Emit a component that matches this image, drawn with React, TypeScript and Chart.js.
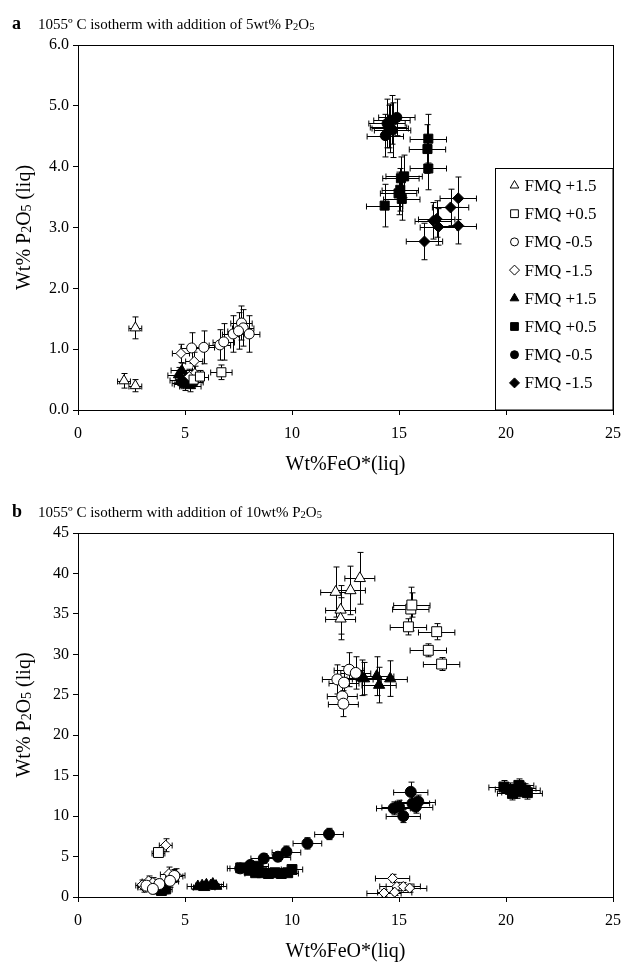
import React, { useEffect, useRef } from "react";
import { Chart, registerables } from "chart.js";
Chart.register(...registerables);

// ---------- DATA: [FeO*, P2O5, xErr, yErr] ----------
// Panel a (5 wt% P2O5)
const A_TRI_OPEN = [[2.68, 1.35, 0.3, 0.18], [2.15, 0.48, 0.3, 0.12], [2.68, 0.4, 0.3, 0.1]];
const A_SQ_OPEN = [[6.7, 0.62, 0.5, 0.12], [5.4, 0.5, 0.4, 0.1], [5.7, 0.55, 0.4, 0.1]];
const A_CIR_OPEN = [[5.31, 1.02, 0.5, 0.25], [5.88, 1.03, 0.5, 0.27], [6.63, 1.07, 0.5, 0.25], [6.81, 1.12, 0.5, 0.3], [7.25, 1.25, 0.5, 0.3], [7.64, 1.43, 0.5, 0.28], [7.72, 1.35, 0.5, 0.3], [8.0, 1.25, 0.5, 0.3], [7.5, 1.3, 0.5, 0.3]];
const A_DIA_OPEN = [[4.81, 0.93, 0.4, 0.15], [5.43, 0.8, 0.4, 0.15], [5.46, 0.6, 0.4, 0.12], [5.2, 0.55, 0.4, 0.12]];
const A_TRI_FILL = [[4.7, 0.58, 0.5, 0.12], [4.8, 0.5, 0.5, 0.1], [4.9, 0.45, 0.5, 0.1], [5.0, 0.42, 0.5, 0.1], [5.1, 0.48, 0.5, 0.1], [5.25, 0.4, 0.5, 0.1], [5.35, 0.46, 0.5, 0.1], [4.85, 0.65, 0.5, 0.12], [5.05, 0.55, 0.5, 0.1]];
const A_SQ_FILL = [[16.37, 4.46, 0.85, 0.4], [16.33, 4.29, 0.85, 0.4], [16.37, 3.97, 0.85, 0.35], [15.24, 3.84, 0.85, 0.35], [15.09, 3.81, 0.85, 0.35], [15.06, 3.62, 0.85, 0.35], [14.98, 3.56, 0.85, 0.35], [15.13, 3.47, 0.85, 0.35], [14.33, 3.36, 0.85, 0.35], [14.51, 4.66, 0.85, 0.35], [14.67, 4.77, 0.85, 0.4]];
const A_CIR_FILL = [[14.44, 4.71, 0.85, 0.4], [14.9, 4.81, 0.85, 0.3], [14.36, 4.51, 0.85, 0.35], [14.59, 4.63, 0.85, 0.4], [14.7, 4.6, 0.85, 0.45]];
const A_DIA_FILL = [[17.77, 3.48, 0.85, 0.35], [17.41, 3.33, 0.85, 0.3], [16.76, 3.14, 0.85, 0.3], [16.6, 3.11, 0.85, 0.3], [16.84, 3.01, 0.85, 0.3], [17.77, 3.03, 0.85, 0.3], [16.19, 2.77, 0.85, 0.3]];

// Panel b (10 wt% P2O5)
const B_TRI_OPEN = [[13.17, 39.4, 0.7, 3.2], [12.73, 37.9, 0.7, 3.0], [12.04, 37.7, 0.7, 3.1], [12.27, 35.5, 0.7, 3.0], [12.27, 34.4, 0.7, 2.6]];
const B_SQ_OPEN = [[15.55, 35.6, 0.85, 2.7], [15.6, 36.1, 0.85, 1.5], [15.44, 33.4, 0.85, 1.0], [16.76, 32.8, 0.85, 1.0], [16.37, 30.5, 0.85, 0.8], [16.99, 28.8, 0.85, 0.8], [3.76, 5.5, 0.3, 0.6]];
const B_CIR_OPEN = [[12.67, 28.1, 0.7, 2.1], [12.98, 27.7, 0.7, 2.0], [12.12, 26.9, 0.7, 1.8], [12.43, 26.5, 0.7, 2.0], [12.35, 24.8, 0.7, 1.5], [12.4, 23.9, 0.7, 1.6], [4.5, 2.6, 0.4, 0.8], [4.3, 2.0, 0.4, 0.8], [3.2, 1.4, 0.4, 0.6], [3.8, 1.6, 0.4, 0.6], [3.5, 1.0, 0.4, 0.6]];
const B_DIA_OPEN = [[4.1, 6.4, 0.3, 0.8], [4.25, 2.9, 0.4, 0.8], [4.6, 2.7, 0.4, 0.8], [3.0, 1.5, 0.3, 0.6], [3.3, 2.0, 0.3, 0.6], [3.5, 1.8, 0.3, 0.6], [3.1, 1.2, 0.3, 0.6], [14.7, 2.3, 0.8, 0.5], [14.9, 1.3, 0.8, 0.5], [15.2, 1.3, 0.8, 0.5], [15.5, 1.1, 0.8, 0.5], [14.3, 0.5, 0.8, 0.4], [14.8, 0.6, 0.8, 0.4]];
const B_TRI_FILL = [[13.25, 27.1, 0.8, 2.2], [13.96, 27.3, 0.8, 2.4], [14.07, 26.2, 0.8, 2.2], [14.59, 27.0, 0.8, 2.2], [13.37, 27.0, 0.8, 2.0], [5.6, 1.3, 0.5, 0.3], [5.8, 1.4, 0.5, 0.3], [6.0, 1.5, 0.5, 0.3], [6.2, 1.4, 0.5, 0.3], [6.3, 1.6, 0.5, 0.3], [6.45, 1.35, 0.5, 0.3], [5.9, 1.2, 0.5, 0.3]];
const B_SQ_FILL = [[7.6, 3.6, 0.5, 0.4], [8.0, 3.3, 0.5, 0.4], [8.3, 3.0, 0.5, 0.4], [8.6, 3.0, 0.5, 0.4], [8.9, 2.9, 0.5, 0.4], [9.2, 3.0, 0.5, 0.4], [9.5, 2.9, 0.5, 0.4], [9.8, 3.0, 0.5, 0.4], [10.0, 3.4, 0.5, 0.4], [8.4, 3.8, 0.5, 0.4], [3.9, 0.8, 0.3, 0.3], [4.1, 1.0, 0.3, 0.3], [19.9, 13.6, 0.7, 0.8], [20.2, 13.3, 0.7, 0.8], [20.5, 13.0, 0.7, 0.8], [20.7, 13.5, 0.7, 0.8], [20.9, 13.2, 0.7, 0.8], [20.3, 12.8, 0.7, 0.8], [20.6, 13.8, 0.7, 0.8], [21.0, 12.9, 0.7, 0.8]];
const B_CIR_FILL = [[15.55, 13.0, 0.8, 1.2], [14.75, 10.96, 0.8, 0.8], [15.0, 11.16, 0.8, 0.8], [15.63, 11.57, 0.8, 0.8], [15.78, 11.16, 0.8, 0.8], [15.2, 10.0, 0.8, 0.8], [15.9, 11.8, 0.8, 0.8], [11.73, 7.79, 0.67, 0.7], [10.72, 6.63, 0.67, 0.7], [9.74, 5.6, 0.67, 0.7], [9.34, 4.98, 0.6, 0.6], [8.68, 4.77, 0.6, 0.6], [8.05, 3.96, 0.6, 0.5], [7.58, 3.54, 0.6, 0.5]];
const B_DIA_FILL: number[][] = [];

const LABELS = ["FMQ +1.5", "FMQ +0.5", "FMQ -0.5", "FMQ -1.5", "FMQ +1.5", "FMQ +0.5", "FMQ -0.5", "FMQ -1.5"];
const STYLES = ["triangle", "rect", "circle", "rectRot", "triangle", "rect", "circle", "rectRot"];
const FILLED = [false, false, false, false, true, true, true, true];

const X_TICKS = [0, 5, 10, 15, 20, 25];
const A_Y_MAX = 6;
const B_Y_MAX = 45;

const FONT = '"Liberation Serif", "Times New Roman", serif';

// ---------- helpers ----------
function drawSym(ctx: CanvasRenderingContext2D, style: string, x: number, y: number, r: number, filled: boolean) {
  ctx.beginPath();
  if (style === "triangle") {
    ctx.moveTo(x, y - r);
    ctx.lineTo(x + r * 0.866, y + r * 0.5);
    ctx.lineTo(x - r * 0.866, y + r * 0.5);
    ctx.closePath();
  } else if (style === "rect") {
    const s = r * 1.414;
    ctx.rect(x - s / 2, y - s / 2, s, s);
  } else if (style === "circle") {
    ctx.arc(x, y, r, 0, Math.PI * 2);
  } else {
    ctx.moveTo(x, y - r);
    ctx.lineTo(x + r, y);
    ctx.lineTo(x, y + r);
    ctx.lineTo(x - r, y);
    ctx.closePath();
  }
  ctx.fillStyle = filled ? "#000" : "#fff";
  ctx.fill();
  ctx.strokeStyle = "#000";
  ctx.lineWidth = 1;
  ctx.stroke();
}

type Seg = { t: string; sub?: boolean };
function segWidth(ctx: CanvasRenderingContext2D, segs: Seg[], size: number) {
  let w = 0;
  for (const s of segs) {
    ctx.font = `${s.sub ? size * 0.7 : size}px ${FONT}`;
    w += ctx.measureText(s.t).width;
  }
  return w;
}
function drawSegs(ctx: CanvasRenderingContext2D, segs: Seg[], x: number, y: number, size: number) {
  let cx = x;
  ctx.textAlign = "left";
  ctx.textBaseline = "alphabetic";
  ctx.fillStyle = "#000";
  for (const s of segs) {
    ctx.font = `${s.sub ? size * 0.7 : size}px ${FONT}`;
    ctx.fillText(s.t, cx, y + (s.sub ? 1 : 0));
    cx += ctx.measureText(s.t).width;
  }
}

const errorBars = {
  id: "errorBars",
  beforeDatasetsDraw(chart: any) {
    const { ctx } = chart;
    const xs = chart.scales.x, ys = chart.scales.y;
    ctx.save();
    ctx.strokeStyle = "#000";
    ctx.lineWidth = 1;
    chart.data.datasets.forEach((ds: any) => {
      ds.data.forEach((p: any, i: number) => {
        const e = ds.errors[i];
        const cx = Math.round(xs.getPixelForValue(p.x)) + 0.5;
        const cy = Math.round(ys.getPixelForValue(p.y)) + 0.5;
        const x0 = xs.getPixelForValue(p.x - e[0]);
        const x1 = xs.getPixelForValue(p.x + e[0]);
        const y0 = ys.getPixelForValue(p.y - e[1]);
        const y1 = ys.getPixelForValue(p.y + e[1]);
        const c = 3;
        ctx.beginPath();
        ctx.moveTo(x0, cy); ctx.lineTo(x1, cy);
        ctx.moveTo(x0, cy - c); ctx.lineTo(x0, cy + c);
        ctx.moveTo(x1, cy - c); ctx.lineTo(x1, cy + c);
        ctx.moveTo(cx, y0); ctx.lineTo(cx, y1);
        ctx.moveTo(cx - c, y0); ctx.lineTo(cx + c, y0);
        ctx.moveTo(cx - c, y1); ctx.lineTo(cx + c, y1);
        ctx.stroke();
      });
    });
    ctx.restore();
  },
};

function makeTextPlugin(cfg: any) {
  return {
    id: "texts",
    afterDraw(chart: any) {
      const { ctx } = chart;
      const { left, right, top, bottom } = chart.chartArea;
      ctx.save();
      // box
      ctx.strokeStyle = "#000";
      ctx.lineWidth = 1;
      ctx.strokeRect(Math.round(left) + 0.5, Math.round(top) + 0.5, Math.round(right - left), Math.round(bottom - top));
      // panel letter + title
      ctx.fillStyle = "#000";
      ctx.font = `bold 18px ${FONT}`;
      ctx.textAlign = "left";
      ctx.textBaseline = "alphabetic";
      ctx.fillText(cfg.letter, 12, top - 16);
      drawSegs(ctx, cfg.title, 38, top - 16, 15);
      // x title
      ctx.fillStyle = "#000";
      ctx.font = `20px ${FONT}`;
      ctx.textAlign = "center";
      ctx.textBaseline = "alphabetic";
      ctx.fillText(cfg.xTitle, (left + right) / 2, bottom + 60);
      // y title
      ctx.save();
      ctx.translate(23, (top + bottom) / 2);
      ctx.rotate(-Math.PI / 2);
      const w = segWidth(ctx, cfg.yTitle, 20);
      drawSegs(ctx, cfg.yTitle, -w / 2, 7, 20);
      ctx.restore();
      // legend
      if (cfg.legend) {
        const lx = Math.round(right - 118) + 0.5;
        const ly = Math.round(top + 123) + 0.5;
        ctx.fillStyle = "#fff";
        ctx.fillRect(lx, ly, right - lx, bottom - ly);
        ctx.strokeStyle = "#000";
        ctx.strokeRect(lx, ly, right - lx, bottom - ly);
        chart.data.datasets.forEach((ds: any, i: number) => {
          const y = ly + 17 + i * 28.2;
          const st = ds.pointStyle;
          const r = st === "triangle" ? 5 : st === "rect" ? 5.5 : st === "circle" ? 4 : 5;
          drawSym(ctx, st, lx + 19, y, r, ds.filled);
          ctx.fillStyle = "#000";
          ctx.font = `17px ${FONT}`;
          ctx.textAlign = "left";
          ctx.textBaseline = "middle";
          ctx.fillText(ds.label, lx + 29, y + 1);
        });
      }
      ctx.restore();
    },
  };
}

function makeDatasets(series: number[][][], radii: number[]) {
  return series.map((arr, i) => ({
    label: LABELS[i],
    data: arr.map((r) => ({ x: r[0], y: r[1] })),
    errors: arr.map((r) => [r[2], r[3]]),
    pointStyle: STYLES[i],
    filled: FILLED[i],
    pointRadius: radii[i],
    pointHoverRadius: radii[i],
    backgroundColor: FILLED[i] ? "#000" : "#fff",
    borderColor: "#000",
    pointBorderWidth: 1,
    borderWidth: 1,
    showLine: false,
    clip: false,
  }));
}

function Panel(props: any) {
  const ref = useRef<HTMLCanvasElement>(null);
  useEffect(() => {
    const p = props;
    const tickFont = { family: FONT, size: 16 };
    const chart = new Chart(ref.current as HTMLCanvasElement, {
      type: "scatter",
      data: { datasets: makeDatasets(p.series, p.radii) as any },
      options: {
        animation: false,
        responsive: false,
        events: [],
        layout: { padding: { left: 0, right: 9, top: p.padTop, bottom: 0 } },
        plugins: { legend: { display: false }, tooltip: { enabled: false }, title: { display: false } },
        scales: {
          x: {
            type: "linear",
            min: 0,
            max: 25,
            afterBuildTicks: (s: any) => { s.ticks = X_TICKS.map((v) => ({ value: v })); },
            ticks: { color: "#000", font: tickFont, padding: 9, maxRotation: 0 },
            grid: { drawOnChartArea: false, drawTicks: true, tickLength: 5, color: "#000" },
            border: { color: "#000" },
            afterFit: (s: any) => { s.height = p.xH; s.paddingLeft = 0; s.paddingRight = 0; },
          },
          y: {
            type: "linear",
            min: 0,
            max: p.yMax,
            ticks: { stepSize: p.yStep, color: "#000", font: tickFont, padding: 4, callback: p.yFmt },
            grid: { drawOnChartArea: false, drawTicks: true, tickLength: 5, color: "#000" },
            border: { color: "#000" },
            afterFit: (s: any) => { s.width = 78; s.paddingTop = 0; s.paddingBottom = 0; },
          },
        },
      } as any,
      plugins: [errorBars, makeTextPlugin(p.text)],
    });
    return () => chart.destroy();
  }, []);
  return <canvas ref={ref} width={622} height={props.h} style={{ display: "block" }} />;
}

export default function App() {
  const yTitle: Seg[] = [{ t: "Wt% P" }, { t: "2", sub: true }, { t: "O" }, { t: "5", sub: true }, { t: " (liq)" }];
  return (
    <div style={{ position: "absolute", left: 0, top: 0, width: 622, height: 962, background: "#fff" }}>
      <Panel
        h={480}
        padTop={45}
        xH={70}
        yMax={A_Y_MAX}
        yStep={1}
        yFmt={(v: any) => Number(v).toFixed(1)}
        series={[A_TRI_OPEN, A_SQ_OPEN, A_CIR_OPEN, A_DIA_OPEN, A_TRI_FILL, A_SQ_FILL, A_CIR_FILL, A_DIA_FILL]}
        radii={[6, 6.4, 5, 5, 6, 6.4, 5, 5.5]}
        text={{
          letter: "a",
          title: [{ t: "1055º C isotherm with addition of 5wt% P" }, { t: "2", sub: true }, { t: "O" }, { t: "5", sub: true }],
          xTitle: "Wt%FeO*(liq)",
          yTitle,
          legend: true,
        }}
      />
      <Panel
        h={482}
        padTop={53}
        xH={65}
        yMax={B_Y_MAX}
        yStep={5}
        yFmt={(v: any) => String(v)}
        series={[B_TRI_OPEN, B_SQ_OPEN, B_CIR_OPEN, B_DIA_OPEN, B_TRI_FILL, B_SQ_FILL, B_CIR_FILL, B_DIA_FILL]}
        radii={[6.5, 7, 5.5, 5, 6.5, 7, 5.5, 5]}
        text={{
          letter: "b",
          title: [{ t: "1055º C isotherm with addition of 10wt% P" }, { t: "2", sub: true }, { t: "O" }, { t: "5", sub: true }],
          xTitle: "Wt%FeO*(liq)",
          yTitle,
          legend: false,
        }}
      />
    </div>
  );
}
